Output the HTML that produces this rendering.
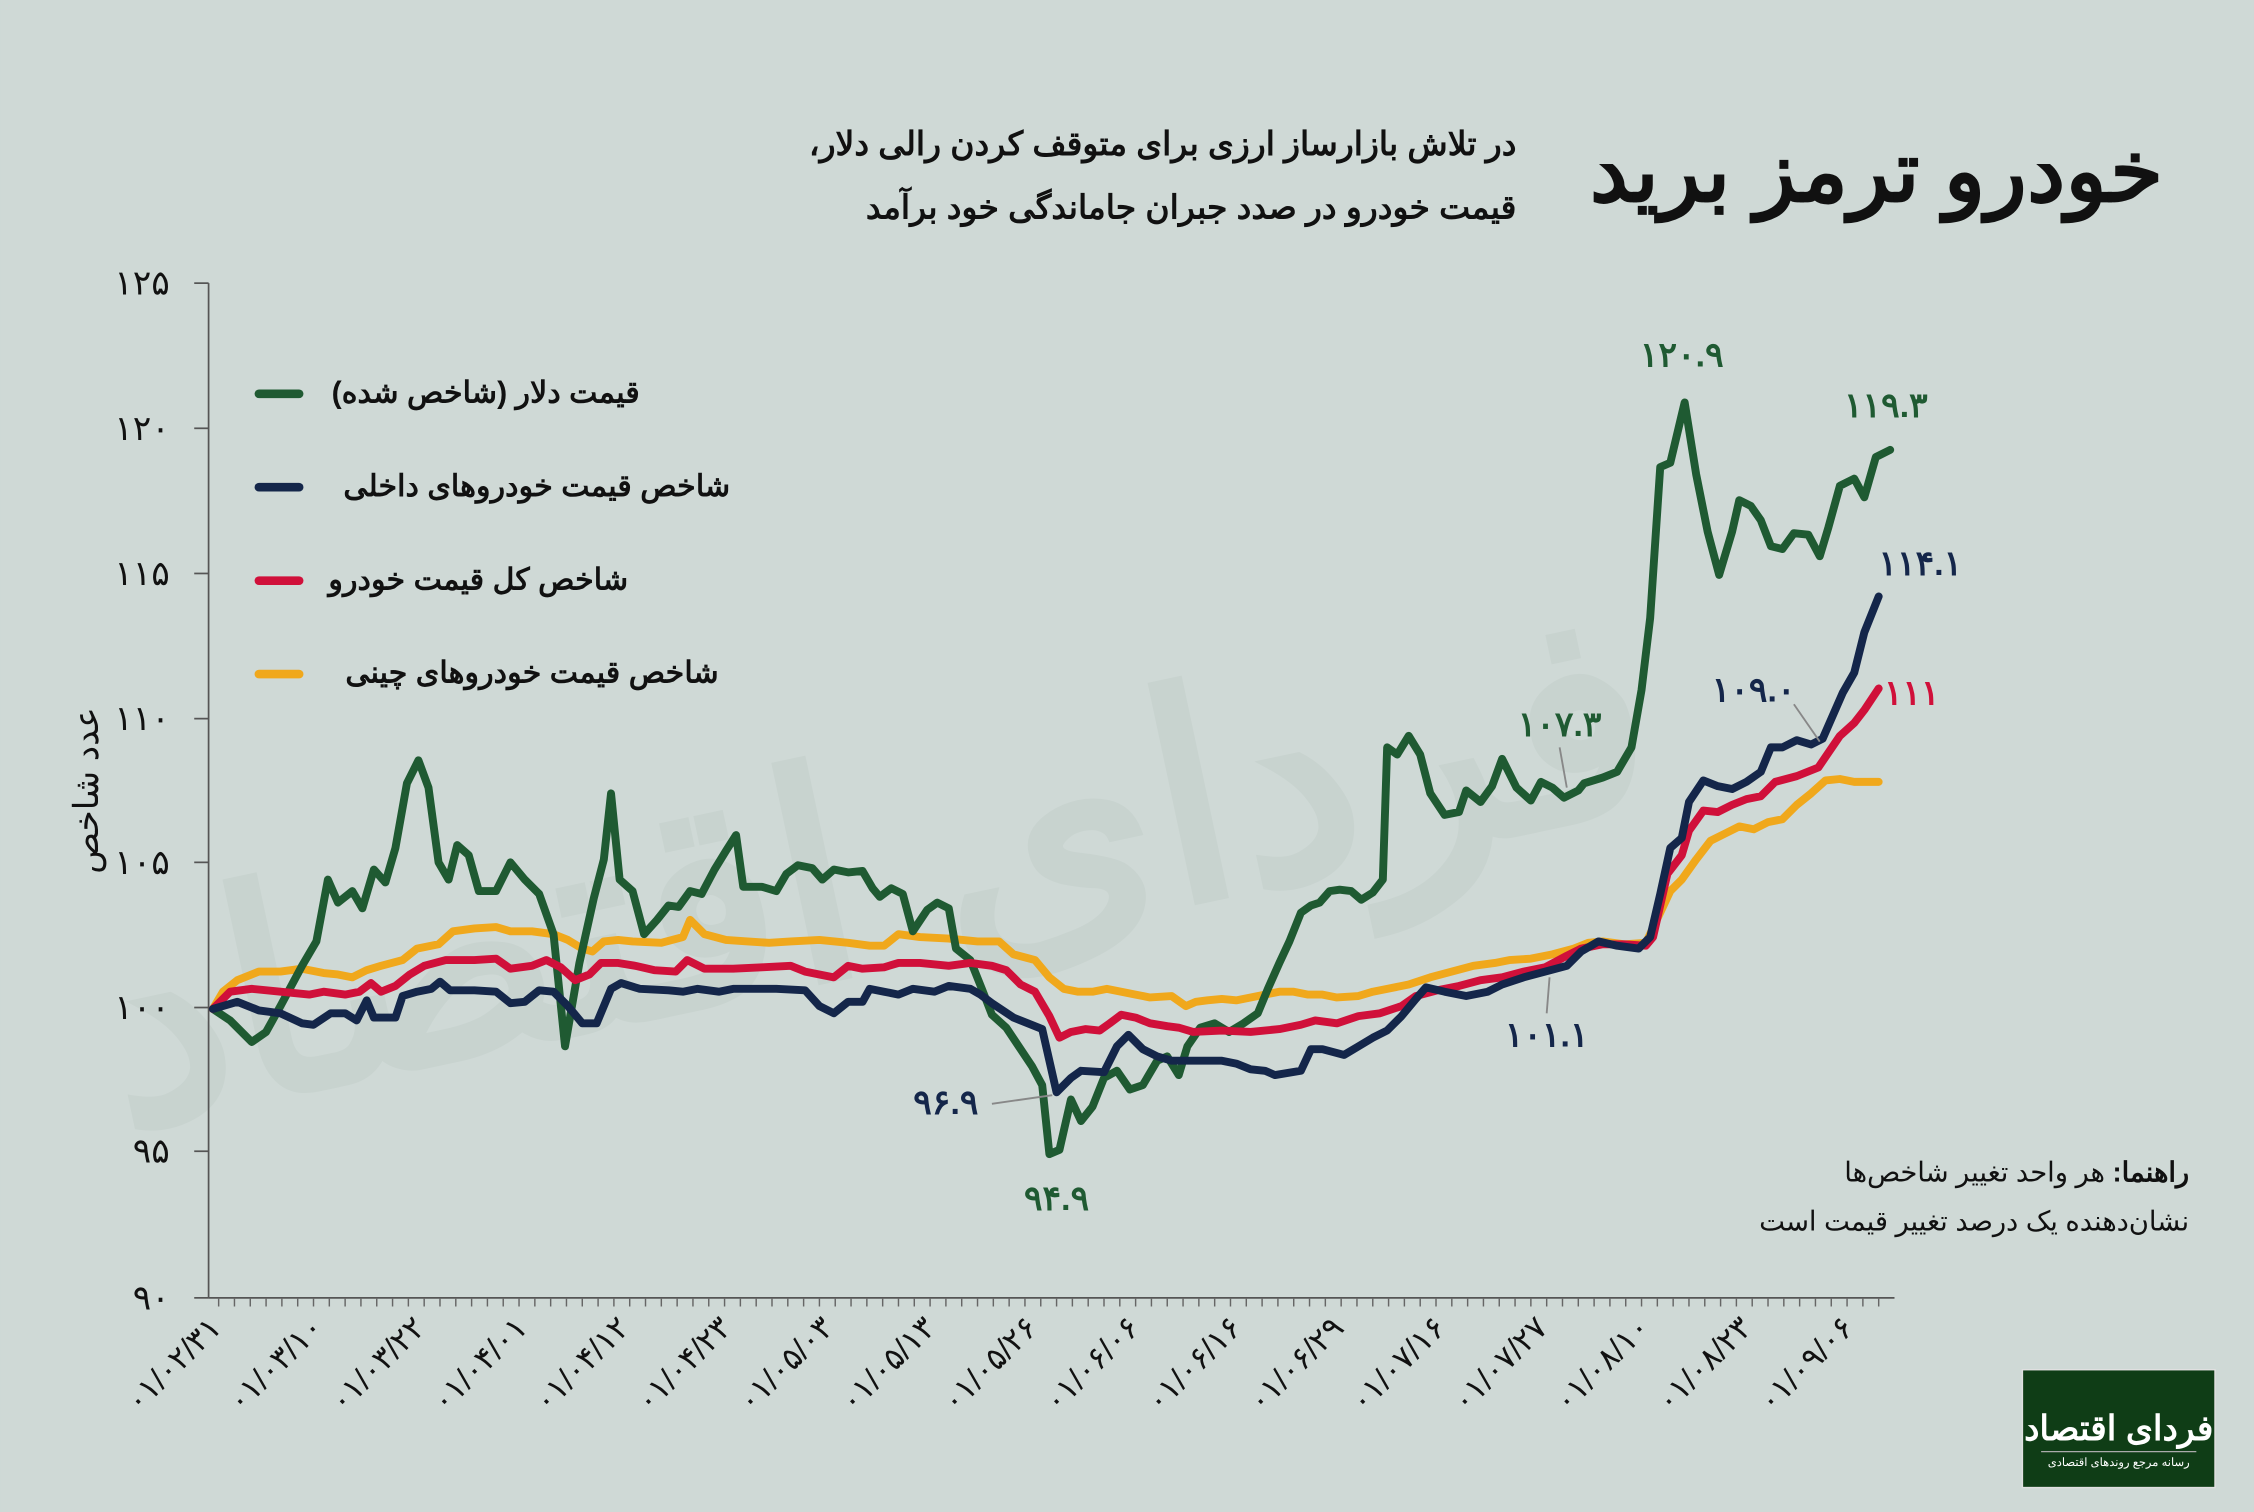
<!DOCTYPE html>
<html><head><meta charset="utf-8"><style>
html,body{margin:0;padding:0;background:#cfd9d6;}
svg{display:block}
text{font-family:"Liberation Sans","Noto Sans CJK SC",sans-serif;}
</style></head><body>
<svg width="2254" height="1512" viewBox="0 0 1568 1052" xmlns="http://www.w3.org/2000/svg">
<rect width="1568" height="1052" fill="#cfd9d6"/>
<!-- watermark -->
<text x="1150" y="640" font-size="200" fill="#c8d3cf" font-weight="bold" transform="rotate(-12 760 560)" direction="rtl" text-anchor="start">فردای اقتصاد</text>
<!-- title -->
<text x="1505" y="140" font-size="60" font-weight="bold" fill="#111" text-anchor="start" direction="rtl">خودرو ترمز برید</text>
<text x="1055" y="108" font-size="23" font-weight="bold" fill="#111" text-anchor="start" direction="rtl">در تلاش بازارساز ارزی برای متوقف کردن رالی دلار،</text>
<text x="1055" y="152" font-size="23" font-weight="bold" fill="#111" text-anchor="start" direction="rtl">قیمت خودرو در صدد جبران جاماندگی خود برآمد</text>
<!-- axes -->
<g stroke="#555" stroke-width="1.2">
<line x1="145" y1="197" x2="145" y2="903"/>
<line x1="145" y1="903" x2="1318" y2="903"/>
<line x1="135" y1="197" x2="145" y2="197"/><line x1="135" y1="298" x2="145" y2="298"/><line x1="135" y1="399" x2="145" y2="399"/><line x1="135" y1="500" x2="145" y2="500"/><line x1="135" y1="600" x2="145" y2="600"/><line x1="135" y1="701" x2="145" y2="701"/><line x1="135" y1="801" x2="145" y2="801"/><line x1="135" y1="903" x2="145" y2="903"/>
</g>
<g stroke="#666" stroke-width="1"><path d="M152 903v6M163 903v6M174 903v6M185 903v6M196 903v6M207 903v6M218 903v6M229 903v6M240 903v6M251 903v6M262 903v6M273 903v6M284 903v6M295 903v6M306 903v6M317 903v6M328 903v6M339 903v6M350 903v6M361 903v6M372 903v6M383 903v6M394 903v6M405 903v6M416 903v6M427 903v6M438 903v6M449 903v6M460 903v6M471 903v6M482 903v6M493 903v6M504 903v6M515 903v6M526 903v6M537 903v6M548 903v6M559 903v6M570 903v6M581 903v6M592 903v6M603 903v6M614 903v6M625 903v6M636 903v6M647 903v6M658 903v6M669 903v6M680 903v6M691 903v6M702 903v6M713 903v6M724 903v6M735 903v6M746 903v6M757 903v6M768 903v6M779 903v6M790 903v6M801 903v6M812 903v6M823 903v6M834 903v6M845 903v6M856 903v6M867 903v6M878 903v6M889 903v6M900 903v6M911 903v6M922 903v6M933 903v6M944 903v6M955 903v6M966 903v6M977 903v6M988 903v6M999 903v6M1010 903v6M1021 903v6M1032 903v6M1043 903v6M1054 903v6M1065 903v6M1076 903v6M1087 903v6M1098 903v6M1109 903v6M1120 903v6M1131 903v6M1142 903v6M1153 903v6M1164 903v6M1175 903v6M1186 903v6M1197 903v6M1208 903v6M1219 903v6M1230 903v6M1241 903v6M1252 903v6M1263 903v6M1274 903v6M1285 903v6M1296 903v6M1307 903v6"/></g>
<g font-size="24" fill="#111" text-anchor="end">
<text x="118" y="205">۱۲۵</text><text x="118" y="306">۱۲۰</text><text x="118" y="407">۱۱۵</text><text x="118" y="508">۱۱۰</text><text x="118" y="608">۱۰۵</text><text x="118" y="709">۱۰۰</text><text x="118" y="809">۹۵</text><text x="118" y="911">۹۰</text>
</g>
<text transform="translate(68 550) rotate(-90)" font-size="24" fill="#111" text-anchor="middle" direction="rtl">عدد شاخص</text>
<g font-size="22" fill="#111" text-anchor="end">
<text transform="translate(155 925) rotate(-45)">۰۱/۰۲/۳۱</text>
<text transform="translate(226 925) rotate(-45)">۰۱/۰۳/۱۰</text>
<text transform="translate(297 925) rotate(-45)">۰۱/۰۳/۲۲</text>
<text transform="translate(368 925) rotate(-45)">۰۱/۰۴/۰۱</text>
<text transform="translate(439 925) rotate(-45)">۰۱/۰۴/۱۲</text>
<text transform="translate(510 925) rotate(-45)">۰۱/۰۴/۲۳</text>
<text transform="translate(581 925) rotate(-45)">۰۱/۰۵/۰۳</text>
<text transform="translate(652 925) rotate(-45)">۰۱/۰۵/۱۳</text>
<text transform="translate(723 925) rotate(-45)">۰۱/۰۵/۲۶</text>
<text transform="translate(794 925) rotate(-45)">۰۱/۰۶/۰۶</text>
<text transform="translate(865 925) rotate(-45)">۰۱/۰۶/۱۶</text>
<text transform="translate(936 925) rotate(-45)">۰۱/۰۶/۲۹</text>
<text transform="translate(1007 925) rotate(-45)">۰۱/۰۷/۱۶</text>
<text transform="translate(1078 925) rotate(-45)">۰۱/۰۷/۲۷</text>
<text transform="translate(1149 925) rotate(-45)">۰۱/۰۸/۱۰</text>
<text transform="translate(1220 925) rotate(-45)">۰۱/۰۸/۲۳</text>
<text transform="translate(1291 925) rotate(-45)">۰۱/۰۹/۰۶</text>
</g>
<g fill="none" stroke-width="5.5" stroke-linejoin="round" stroke-linecap="round">
<polyline stroke="#f0a81c" points="148,702 155,690 165,682 180,676 195,676 210,674 225,677 235,678 245,680 255,675 265,672 280,668 290,660 305,657 315,648 330,646 345,645 355,648 370,648 385,650 395,654 405,660 412,662 420,655 430,654 440,655 460,656 475,652 480,640 490,650 505,654 520,655 535,656 550,655 570,654 590,656 605,658 615,658 625,650 640,652 660,653 680,655 695,655 705,664 720,668 730,680 740,688 750,690 760,690 770,688 780,690 790,692 800,694 815,693 825,700 832,697 840,696 850,695 860,696 870,694 880,692 890,690 900,690 910,692 920,692 930,694 945,693 955,690 965,688 980,685 995,680 1010,676 1025,672 1040,670 1050,668 1065,667 1080,664 1095,660 1105,656 1115,655 1130,657 1145,656 1155,635 1162,620 1170,612 1180,598 1190,585 1200,580 1210,575 1220,577 1230,572 1240,570 1250,560 1260,552 1270,543 1280,542 1290,544 1307,544"/>
<polyline stroke="#1f5a32" points="148,702 160,710 175,725 185,718 195,700 210,672 220,655 228,612 235,628 245,620 252,632 260,605 268,614 275,590 283,545 291,529 298,548 305,600 312,612 318,588 326,595 333,620 345,620 355,600 365,612 375,622 385,650 393,728 403,670 413,625 420,598 425,552 431,612 440,620 448,650 457,640 465,630 472,631 480,620 488,622 497,605 505,592 512,581 517,617 530,617 540,620 547,608 555,602 565,604 572,612 580,605 590,607 600,606 607,618 612,624 620,618 628,622 635,648 645,633 652,628 660,632 665,660 675,668 683,688 690,706 700,715 710,730 718,742 725,755 730,803 737,800 745,765 752,780 760,770 768,750 777,745 786,758 795,755 805,738 812,735 820,748 826,728 835,715 845,712 855,718 865,712 875,705 882,688 890,670 897,655 905,635 912,630 918,628 925,620 932,619 940,620 947,626 955,621 962,612 965,520 972,525 980,512 988,525 995,552 1005,567 1015,565 1020,550 1030,558 1038,547 1045,528 1055,548 1065,557 1072,544 1080,548 1088,555 1098,550 1102,545 1115,541 1125,537 1135,520 1142,480 1148,430 1155,325 1162,322 1172,280 1180,330 1188,370 1196,400 1205,370 1210,348 1218,352 1225,362 1232,380 1240,382 1248,371 1258,372 1266,387 1272,367 1280,338 1290,333 1297,346 1305,318 1315,313"/>
<polyline stroke="#d0103a" points="148,702 160,690 175,688 195,690 215,692 225,690 240,692 250,690 258,684 265,690 275,686 285,678 295,672 310,668 330,668 345,667 355,674 370,672 380,668 390,673 400,682 410,678 418,670 430,670 442,672 455,675 470,676 478,668 490,674 510,674 530,673 550,672 560,676 570,678 580,680 590,672 600,674 615,673 625,670 640,670 660,672 675,670 690,672 700,675 710,685 720,690 730,707 737,722 745,718 755,716 765,717 772,712 780,706 790,708 800,712 812,714 820,715 830,718 850,717 870,718 890,716 905,713 915,710 930,712 945,707 960,705 975,700 985,693 1000,689 1015,686 1030,682 1045,680 1060,676 1075,673 1090,665 1100,660 1115,657 1130,657 1145,658 1150,652 1160,608 1170,595 1175,578 1185,564 1195,565 1205,560 1215,556 1225,554 1235,544 1250,540 1265,534 1280,512 1290,503 1297,494 1307,479"/>
<polyline stroke="#14264a" points="148,702 165,697 180,703 195,705 210,712 218,713 230,705 240,705 248,710 255,696 260,708 275,708 280,693 290,690 300,688 306,683 313,689 330,689 345,690 355,698 365,697 375,689 385,690 395,700 405,712 415,712 425,688 432,684 445,688 465,689 475,690 485,688 500,690 510,688 540,688 560,689 570,700 580,705 590,697 600,697 605,688 615,690 625,692 635,688 650,690 660,686 675,688 682,692 690,698 705,708 715,712 725,716 735,760 745,750 752,745 768,746 777,728 785,720 795,730 805,735 815,738 835,738 850,738 860,740 870,744 880,745 887,748 905,745 912,730 920,730 935,734 945,728 955,722 965,717 975,707 985,695 992,687 1005,690 1020,693 1035,690 1045,685 1060,680 1075,676 1090,672 1100,662 1112,655 1125,658 1140,660 1148,652 1155,622 1162,590 1170,583 1175,558 1185,543 1195,547 1205,549 1215,544 1225,537 1232,520 1240,520 1250,515 1260,518 1268,514 1275,498 1282,482 1290,468 1297,440 1307,415"/>
</g>
<!-- legend -->
<g stroke-width="6" stroke-linecap="round">
<line x1="180" y1="274" x2="208" y2="274" stroke="#1f5a32"/>
<line x1="180" y1="339" x2="208" y2="339" stroke="#14264a"/>
<line x1="180" y1="404" x2="208" y2="404" stroke="#d0103a"/>
<line x1="180" y1="469" x2="208" y2="469" stroke="#f0a81c"/>
</g>
<g font-size="21" font-weight="bold" fill="#111" direction="rtl" text-anchor="start">
<text x="445" y="280">قیمت دلار (شاخص شده)</text>
<text x="508" y="345">شاخص قیمت خودروهای داخلی</text>
<text x="437" y="410">شاخص کل قیمت خودرو</text>
<text x="500" y="475">شاخص قیمت خودروهای چینی</text>
</g>
<!-- annotations -->
<g font-size="24" font-weight="bold">
<text x="1170" y="255" fill="#1f5a32" text-anchor="middle">۱۲۰.۹</text>
<text x="1312" y="290" fill="#1f5a32" text-anchor="middle">۱۱۹.۳</text>
<text x="1336" y="400" fill="#14264a" text-anchor="middle">۱۱۴.۱</text>
<text x="1330" y="490" fill="#d0103a" text-anchor="middle">۱۱۱</text>
<text x="1220" y="488" fill="#14264a" text-anchor="middle">۱۰۹.۰</text>
<text x="1085" y="512" fill="#1f5a32" text-anchor="middle">۱۰۷.۳</text>
<text x="1076" y="728" fill="#14264a" text-anchor="middle">۱۰۱.۱</text>
<text x="658" y="775" fill="#14264a" text-anchor="middle">۹۶.۹</text>
<text x="735" y="842" fill="#1f5a32" text-anchor="middle">۹۴.۹</text>
</g>
<g stroke="#888" stroke-width="1.3" fill="none">
<path d="M1085 520 L1090 548"/><path d="M1076 705 L1078 680"/><path d="M1248 490 L1266 516"/><path d="M690 768 L732 762"/>
</g>
<g font-size="19" fill="#111" direction="rtl" text-anchor="start">
<text x="1523" y="822"><tspan font-weight="bold">راهنما:</tspan> هر واحد تغییر شاخص‌ها</text>
<text x="1523" y="856">نشان‌دهنده یک درصد تغییر قیمت است</text>
</g>
<!-- logo -->
<rect x="1407" y="953" width="134" height="82" fill="#0f3d16" stroke="#e0e0e0" stroke-width="1"/>
<text x="1474" y="1002" font-size="24" font-weight="bold" fill="#fff" text-anchor="middle" direction="rtl" font-family="Liberation Serif,serif">فردای اقتصاد</text>
<line x1="1420" y1="1010" x2="1528" y2="1010" stroke="#aaa" stroke-width="0.8"/>
<text x="1474" y="1020" font-size="8" fill="#fff" text-anchor="middle" direction="rtl">رسانه مرجع روندهای اقتصادی</text>
</svg>
</body></html>
